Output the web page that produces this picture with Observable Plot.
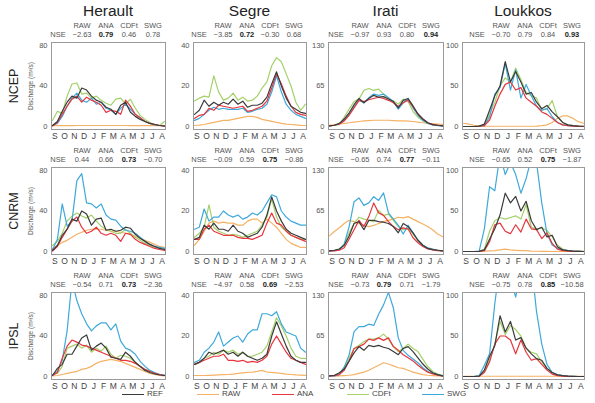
<!DOCTYPE html>
<html>
<head>
<meta charset="utf-8">
<script src="https://cdn.jsdelivr.net/npm/d3@7"></script>
<script src="https://cdn.jsdelivr.net/npm/@observablehq/plot@0.6"></script>
<style>
  html, body { margin: 0; padding: 0; background: #fff; }
  #chart { position: relative; width: 595px; height: 403px; font-family: "Liberation Sans", Arial, sans-serif; font-weight: 400; color: #222; overflow: hidden; }
  .abs { position: absolute; white-space: nowrap; line-height: 1; }
  .title { font-size: 15.5px; font-weight: 400; transform: translateX(-50%); }
  .rowlab { font-size: 12.5px; font-weight: 400; transform: translate(-50%, -50%) rotate(-90deg); }
  .ylab { font-size: 6.5px; color: #555; transform: translate(-50%, -50%) rotate(-90deg); }
  .nse { font-size: 7.5px; color: #555; transform: translate(-50%, -50%); }
  .nse.best { font-weight: bold; color: #222; }
  .leg { font-size: 8px; color: #444; display: flex; align-items: center; }
  .leg span.sw { display: inline-block; width: 22px; height: 0; border-top: 1.5px solid; margin-right: 3px; }
</style>
</head>
<body>
<div id="chart"></div>
<script>
// Mean seasonal discharge cycle (Sep–Aug), two values per month
const months = ["S", "O", "N", "D", "J", "F", "M", "A", "M", "J", "J", "A"];
const basins = ["Herault", "Segre", "Irati", "Loukkos"];
const models = ["NCEP", "CNRM", "IPSL"];
const methods = ["REF", "RAW", "ANA", "CDFt", "SWG"];
const yMax = [80, 40, 130, 100];

// Nash–Sutcliffe efficiencies (RAW, ANA, CDFt, SWG) and index of the best method
const nseNCEP = [["−2.63", "0.79", "0.46", "0.78"], ["−3.85", "0.72", "−0.30", "0.68"], ["−0.97", "0.93", "0.80", "0.94"], ["−0.70", "0.79", "0.84", "0.93"]];
const nseCNRM = [["0.44", "0.66", "0.73", "−0.70"], ["−0.09", "0.59", "0.75", "−0.86"], ["−0.65", "0.74", "0.77", "−0.11"], ["−0.65", "0.52", "0.75", "−1.87"]];
const nseIPSL = [["−0.54", "0.71", "0.73", "−2.36"], ["−4.97", "0.58", "0.69", "−2.53"], ["−0.73", "0.79", "0.71", "−1.79"], ["−0.75", "0.78", "0.85", "−10.58"]];
const bestNCEP = [1, 1, 3, 3];
const bestCNRM = [2, 2, 2, 2];
const bestIPSL = [2, 2, 1, 2];

// Discharge (m3/s) — NCEP
const heraultNCEP = {
  REF:  [1, 5, 15, 24, 30, 28, 38, 36, 30, 26, 24, 19, 17, 12, 21, 24, 14, 10, 7, 5, 3, 2, 1, 0.5],
  RAW:  [0.8, 0.8, 0.8, 0.9, 0.9, 1, 1, 1, 1, 1, 1, 1, 1, 1, 1, 1, 0.9, 0.9, 0.8, 0.8, 0.8, 0.8, 0.8, 0.8],
  ANA:  [0.5, 4, 12, 20, 27, 30, 24, 29, 26, 24, 21, 14, 16, 15, 12, 26, 20, 12, 9, 5, 3, 2, 1, 0.3],
  CDFt: [6, 15, 13, 30, 42, 43, 32, 33, 28, 30, 26, 23, 21, 27, 28, 22, 27, 18, 11, 7, 4, 2, 1, 5],
  SWG:  [1, 3, 10, 20, 28, 33, 26, 24, 28, 22, 24, 18, 16, 12, 18, 22, 17, 12, 8, 5, 3, 1.5, 1, 0.5]
};
const segreNCEP = {
  REF:  [6, 8, 13, 10, 12, 10.5, 12, 11, 13.5, 11, 12.5, 9.5, 10.5, 10.5, 11.5, 14.5, 21, 27, 20, 14, 10, 8.5, 7, 6.5],
  RAW:  [0.5, 0.7, 1, 1.5, 2, 2.5, 3, 3, 3.5, 4, 4.5, 5, 5, 4.5, 3.5, 3, 2.5, 2, 1.5, 1.2, 1, 0.8, 0.6, 0.5],
  ANA:  [4, 5.5, 6, 9, 8, 10.5, 10, 9.5, 9, 9.5, 10, 7.5, 8, 9, 10, 12.5, 19, 26, 21, 15, 10, 7, 6, 5.5],
  CDFt: [12.6, 14, 15, 14.5, 25, 17, 13, 14, 16.5, 13, 14.5, 12.5, 13, 15, 19, 22, 30, 34, 32, 26, 20, 12, 8, 11],
  SWG:  [3, 4, 6, 8, 9.5, 8.5, 9, 8.5, 8.5, 8.5, 9, 7, 7.5, 8.5, 9, 11, 17, 25, 17, 11, 8, 6, 5, 4]
};
const iratiNCEP = {
  REF:  [1, 2, 5, 12, 22, 35, 45, 38, 45, 50, 47, 48, 44, 40, 30, 42, 45, 33, 20, 12, 6, 3, 2, 1],
  RAW:  [2, 3, 4, 5, 6, 7, 8, 9, 9.5, 10, 10, 10, 10, 9.5, 9, 9, 8.5, 8, 7, 6, 5, 4.5, 4, 3.5],
  ANA:  [1, 2, 4, 9, 18, 30, 42, 40, 43, 45, 47, 45, 42, 38, 32, 38, 42, 32, 20, 12, 6, 3, 2, 1],
  CDFt: [1.5, 2, 3, 15, 28, 40, 44, 58, 61, 58, 60, 52, 45, 41, 36, 44, 40, 24, 15, 9, 5, 3, 2, 1.5],
  SWG:  [1, 2, 4, 10, 20, 32, 42, 38, 46, 52, 50, 52, 46, 40, 28, 38, 44, 30, 18, 10, 5, 2.5, 1.5, 1]
};
const loukkosNCEP = {
  REF:  [0, 0, 0, 0.5, 3, 20, 38, 50, 80, 55, 68, 55, 40, 42, 30, 22, 26, 18, 12, 5, 2, 1, 0.5, 0.3],
  RAW:  [4, 3, 1.5, 1, 0.5, 0.3, 0.3, 0.3, 0.3, 0.3, 0.3, 0.3, 0.3, 0.3, 0.5, 1, 2, 5, 10, 13, 13, 10, 6, 4],
  ANA:  [0, 0, 0, 0.3, 1, 8, 25, 40, 52, 55, 45, 48, 35, 30, 25, 18, 15, 10, 5, 2, 1, 0.5, 0.2, 0],
  CDFt: [0, 0, 0, 0.5, 2, 15, 30, 50, 60, 55, 72, 58, 42, 38, 35, 20, 22, 32, 12, 5, 2, 1, 0.5, 0.2],
  SWG:  [0, 0, 0, 0.3, 1, 12, 40, 48, 78, 45, 70, 35, 52, 38, 25, 20, 22, 12, 5, 2, 1, 0.5, 0.2, 0]
};

// Discharge (m3/s) — CNRM
const heraultCNRM = {
  REF:  [1, 6, 16, 22, 32, 30, 40, 37, 26, 32, 33, 21, 22, 20, 21, 24, 23, 17, 13, 10, 7, 5, 3, 2],
  RAW:  [3, 6, 9, 11, 14, 17, 19, 21, 22, 22, 22, 21, 20, 20, 19, 18, 17, 15, 13, 11, 9, 7, 5, 4],
  ANA:  [0.5, 5, 14, 22, 30, 34, 24, 18, 20, 24, 18, 16, 18, 16, 10, 18, 17, 12, 9, 7, 5, 3, 2, 1],
  CDFt: [6, 10, 18, 30, 35, 38, 35, 33, 36, 30, 25, 22, 20, 18, 18, 22, 18, 14, 11, 8, 6, 4, 3, 2],
  SWG:  [2, 12, 47, 25, 30, 70, 77, 48, 47, 43, 47, 36, 32, 31, 25, 21, 20, 18, 14, 10, 7, 5, 4, 3]
};
const segreCNRM = {
  REF:  [6, 7, 13, 11, 14, 11, 11, 10, 13, 10, 9, 7, 8, 9, 12, 18, 27, 20, 15, 11, 9, 8, 7, 6],
  RAW:  [3, 6, 10, 14, 15, 14, 14.5, 14, 14, 13, 13, 15, 16, 16, 14, 16, 14, 12, 9, 6, 4, 3, 2, 2],
  ANA:  [6, 6, 11, 13, 10, 9, 8, 8, 8, 7, 6.5, 6.5, 6, 7, 8, 14, 19, 14, 13, 10, 8, 7, 6, 5],
  CDFt: [7, 9, 12, 23, 12, 10, 9, 8, 8.5, 8, 7, 8, 9, 10, 13, 17, 26, 17, 12, 10, 8, 7, 6, 6],
  SWG:  [11, 12, 21, 15, 17, 17, 20, 18, 17, 18, 16, 17, 19, 18, 20, 24, 28, 27, 20, 17, 15, 14, 13, 13]
};
const iratiCNRM = {
  REF:  [1, 2, 4, 10, 25, 45, 48, 35, 50, 50, 48, 47, 45, 40, 30, 45, 40, 30, 18, 10, 5, 3, 2, 1],
  RAW:  [25, 32, 38, 45, 50, 48, 45, 42, 40, 42, 45, 48, 50, 52, 55, 54, 56, 52, 48, 44, 40, 35, 28, 24],
  ANA:  [1, 1, 2, 6, 20, 35, 50, 40, 56, 78, 62, 58, 48, 40, 35, 38, 36, 22, 14, 8, 4, 2.5, 1.5, 1],
  CDFt: [1, 2, 4, 12, 30, 45, 55, 52, 50, 48, 66, 58, 60, 50, 40, 35, 37, 28, 18, 10, 5, 3, 2, 1],
  SWG:  [1, 1.5, 3, 12, 40, 80, 86, 74, 78, 88, 82, 94, 62, 52, 42, 28, 42, 30, 18, 10, 6, 4, 2, 1]
};
const loukkosCNRM = {
  REF:  [0, 0, 0, 0.2, 2, 15, 28, 45, 72, 60, 68, 50, 62, 38, 27, 30, 18, 20, 6, 2, 1, 0.5, 0.2, 0],
  RAW:  [0, 0, 0, 0.2, 0.5, 0.8, 1, 2, 3, 2, 1.5, 1, 1, 0.5, 0.3, 0.2, 0.1, 0, 0, 0, 0, 0, 0, 0],
  ANA:  [0, 0, 0, 0.2, 1, 12, 33, 35, 25, 22, 33, 24, 40, 28, 27, 16, 23, 10, 3, 1, 0.3, 0.2, 0.1, 0],
  CDFt: [0, 0, 0, 0.3, 3, 25, 38, 42, 40, 42, 44, 40, 58, 30, 28, 29, 26, 18, 8, 3, 1, 0.5, 0.5, 0.3],
  SWG:  [0, 0, 0, 0.5, 28, 80, 75, 120, 95, 110, 95, 72, 90, 115, 110, 60, 22, 8, 4, 2, 1, 0.5, 0.2, 0]
};

// Discharge (m3/s) — IPSL
const heraultIPSL = {
  REF:  [1, 8, 12, 22, 22, 30, 38, 41, 26, 30, 33, 28, 19, 18, 17, 24, 20, 14, 10, 6, 4, 2.5, 1.5, 1],
  RAW:  [0.5, 1, 2, 3, 4, 5, 7, 8, 10, 13, 15, 16, 17, 16, 15, 13, 11, 9, 7, 5, 3, 2, 1, 0.5],
  ANA:  [1, 4, 18, 30, 36, 34, 31, 30, 28, 26, 24, 22, 20, 18, 16, 16, 15, 13, 10, 7, 5, 3, 2, 1],
  CDFt: [2, 3, 10, 28, 30, 32, 28, 31, 24, 28, 25, 30, 22, 18, 21, 20, 18, 14, 10, 7, 5, 3, 2, 1],
  SWG:  [1.6, 5, 16, 45, 95, 75, 62, 52, 45, 50, 53, 53, 46, 52, 35, 28, 26, 22, 15, 10, 6, 4, 2, 1.5]
};
const segreIPSL = {
  REF:  [6, 7, 9, 12, 11, 12, 13, 11, 12, 10, 12, 10, 9, 8, 9, 11, 20, 27, 21, 15, 10, 8, 7, 7],
  RAW:  [0.5, 0.5, 0.5, 0.6, 0.7, 0.8, 0.9, 1, 1.2, 1.5, 1.8, 2, 2.2, 2.5, 3, 2.2, 2, 1.8, 1.5, 1.2, 1, 0.8, 0.7, 0.6],
  ANA:  [6, 7, 8, 9, 10, 10, 11, 8, 8, 7.5, 8, 7, 7.5, 7, 8, 10, 16, 20, 16, 12, 9, 8, 7, 6],
  CDFt: [6, 7, 9, 10, 12, 11, 13, 12, 13, 11, 12, 10, 10, 11, 12, 15, 22, 29, 25, 20, 14, 10, 9, 9],
  SWG:  [7, 8, 12, 14, 17, 22, 15, 17, 19, 20, 17, 21, 23, 23, 31, 31, 30, 32, 26, 22, 21, 20, 14, 12]
};
const iratiIPSL = {
  REF:  [1, 2, 6, 12, 25, 38, 48, 42, 50, 48, 50, 47, 45, 40, 35, 45, 48, 40, 30, 20, 12, 6, 3, 1],
  RAW:  [0.5, 0.7, 1, 1.5, 2, 3, 5, 7, 10, 14, 18, 22, 20, 17, 14, 13, 10, 7, 5, 3, 2, 1.5, 1, 0.5],
  ANA:  [1, 1.5, 3, 10, 25, 45, 48, 52, 60, 58, 62, 58, 62, 48, 42, 35, 30, 25, 18, 12, 7, 4, 2, 1],
  CDFt: [1, 2, 4, 15, 30, 45, 50, 56, 60, 60, 62, 68, 60, 48, 40, 45, 52, 45, 40, 28, 16, 8, 4, 2],
  SWG:  [0.5, 1, 3, 15, 35, 72, 80, 80, 84, 82, 100, 115, 135, 110, 62, 42, 34, 28, 22, 14, 8, 5, 3, 1]
};
const loukkosIPSL = {
  REF:  [0, 0, 0, 0.5, 8, 25, 38, 75, 55, 68, 45, 48, 35, 28, 22, 20, 10, 5, 2, 1, 0.5, 0.2, 0, 0],
  RAW:  [0.3, 0.3, 0.3, 0.3, 0.3, 0.3, 0.3, 0.3, 0.3, 0.3, 0.3, 0.3, 0.3, 0.3, 0.3, 0.3, 0.3, 0.3, 0.3, 0.3, 0.3, 0.3, 0.3, 0.3],
  ANA:  [0, 0, 0, 0.3, 5, 18, 40, 50, 50, 45, 28, 45, 30, 20, 22, 15, 8, 3, 1, 0.5, 0.2, 0, 0, 0],
  CDFt: [0, 0, 0, 0.5, 6, 20, 40, 68, 52, 63, 58, 50, 35, 30, 28, 18, 10, 5, 2, 1, 0.5, 0.2, 0, 0],
  SWG:  [0, 0, 0, 1, 14, 28, 90, 140, 160, 120, 98, 130, 160, 140, 80, 40, 15, 5, 2, 1, 0.5, 0.2, 0, 0]
};

const panels = [
  [heraultNCEP, segreNCEP, iratiNCEP, loukkosNCEP],
  [heraultCNRM, segreCNRM, iratiCNRM, loukkosCNRM],
  [heraultIPSL, segreIPSL, iratiIPSL, loukkosIPSL]
];
const nseRows = [nseNCEP, nseCNRM, nseIPSL];
const bestRows = [bestNCEP, bestCNRM, bestIPSL];

// Colours and drawing order of the five series
const colors = { REF: "#3b3b3b", RAW: "#f4b266", ANA: "#e8353e", CDFt: "#a5d16a", SWG: "#3ea9da" };
const drawOrder = ["RAW", "CDFt", "SWG", "ANA", "REF"];

// Panel frames (pixels)
const colLeft = [51, 193, 328, 462];
const colWidth = [114, 113, 115, 122];
const rowTop = [42, 167, 292];
const frameH = 87;
const ML = 26, MR = 3, MT = 3, MB = 16;

const chart = document.getElementById("chart");
const monthPos = months.map((_, k) => 2 * k + 0.5);

function addText(cls, text, left, top) {
  const el = document.createElement("div");
  el.className = "abs " + cls;
  el.textContent = text;
  el.style.left = left + "px";
  el.style.top = top + "px";
  chart.appendChild(el);
  return el;
}

basins.forEach((b, c) => addText("title", b, colLeft[c] + colWidth[c] / 2, 3));

models.forEach((m, r) => {
  const cy = rowTop[r] + frameH / 2;
  addText("rowlab", m, 14, cy);
  addText("ylab", "Discharge (m³/s)", 31, cy);

  basins.forEach((b, c) => {
    const data = panels[r][c];
    const ymax = yMax[c];
    const fw = colWidth[c];
    const svg = Plot.plot({
      width: fw + ML + MR,
      height: frameH + MT + MB,
      marginLeft: ML, marginRight: MR, marginTop: MT, marginBottom: MB,
      style: { fontFamily: "Liberation Sans, Arial, sans-serif", background: "transparent", overflow: "visible" },
      x: { domain: [0, 23], insetLeft: 1, insetRight: 1 },
      y: { domain: [0, ymax], insetTop: 3, insetBottom: 3 },
      marks: [
        Plot.axisX({ ticks: monthPos, tickFormat: d => months[Math.round((d - 0.5) / 2)], tickSize: 0, tickPadding: 3, fontSize: 8.5, fill: "#444", label: null }),
        Plot.axisY({ ticks: [0, ymax / 2, ymax], tickSize: 0, tickPadding: 4, fontSize: 7.5, fill: "#555", label: null }),
        ...drawOrder.map(k => Plot.line(data[k], { x: (d, i) => i, y: d => d, stroke: colors[k], strokeWidth: 1.2, clip: true })),
        Plot.frame({ stroke: "#9a9a9a", strokeWidth: 1 })
      ]
    });
    svg.style.position = "absolute";
    svg.style.left = (colLeft[c] - ML) + "px";
    svg.style.top = (rowTop[r] - MT) + "px";
    chart.appendChild(svg);

    // NSE block, aligned on the right edge of the frame
    const right = colLeft[c] + fw;
    const offs = [-83, -59, -36, -12];
    addText("nse", "NSE", right - 107, rowTop[r] - 7.5);
    methods.slice(1).forEach((k, j) => {
      addText("nse", k, right + offs[j], rowTop[r] - 16);
      addText("nse" + (bestRows[r][c] === j ? " best" : ""), nseRows[r][c][j], right + offs[j], rowTop[r] - 7.5);
    });
  });
});

// Legend
const legend = document.createElement("div");
legend.className = "abs";
legend.style.left = "122px";
legend.style.top = "390px";
legend.style.display = "flex";
methods.forEach(k => {
  const item = document.createElement("div");
  item.className = "leg";
  item.style.width = "75px";
  const sw = document.createElement("span");
  sw.className = "sw";
  sw.style.borderTopColor = colors[k];
  item.appendChild(sw);
  item.appendChild(document.createTextNode(k));
  legend.appendChild(item);
});
chart.appendChild(legend);
</script>
</body>
</html>
